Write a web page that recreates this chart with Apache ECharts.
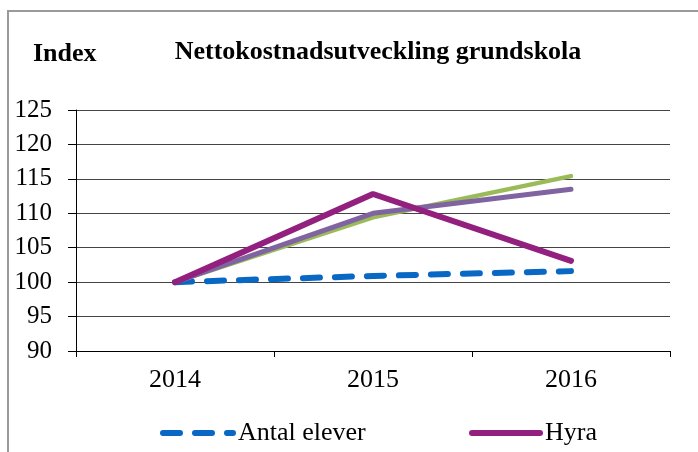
<!DOCTYPE html>
<html>
<head>
<meta charset="utf-8">
<script src="https://cdn.jsdelivr.net/npm/echarts@6/dist/echarts.min.js"></script>
<style>
html,body{margin:0;padding:0;background:#fff;}
#frame{position:absolute;left:7px;top:10px;width:700px;height:460px;border:2px solid #9a9a9a;box-sizing:border-box;}
#c{position:absolute;left:0;top:0;width:698px;height:452px;}
</style>
</head>
<body>
<div id="frame"></div>
<div id="c"></div>
<script>
var categories = ['2014', '2015', '2016'];
var antalElever = [100, 100.9, 101.6];
var hyra = [100, 112.8, 103.1];
var seriesGreen = [100, 109.4, 115.4];
var seriesLavender = [100, 110.0, 113.5];
var yTicks = [90, 95, 100, 105, 110, 115, 120, 125];

var serif = '"Liberation Serif", "Times New Roman", serif';
var legendText = {fontFamily: serif, fontSize: 26, color: '#000'};
var chart = echarts.init(document.getElementById('c'), null, {renderer: 'canvas'});
chart.setOption({
  animation: false,
  backgroundColor: 'transparent',
  textStyle: {fontFamily: serif, color: '#000'},
  title: [
    {text: 'Nettokostnadsutveckling grundskola', left: 378, top: 39, textAlign: 'center', padding: 0,
     textStyle: {fontFamily: serif, fontWeight: 'bold', fontSize: 26, color: '#000'}},
    {text: 'Index', left: 33, top: 41, padding: 0,
     textStyle: {fontFamily: serif, fontWeight: 'bold', fontSize: 26, color: '#000'}}
  ],
  legend: [
    {data: ['Antal elever'], left: 160, top: 420, padding: 0, itemWidth: 70, itemHeight: 14, itemGap: 5,
     textStyle: legendText, itemStyle: {opacity: 0},
     lineStyle: {width: 6, cap: 'round'}},
    {data: ['Hyra'], left: 469, top: 420, padding: 0, itemWidth: 68, itemHeight: 14,
     textStyle: legendText, itemStyle: {opacity: 0},
     lineStyle: {width: 6, cap: 'round'}}
  ],
  grid: {left: 76, right: 28, top: 110, bottom: 101, containLabel: false},
  xAxis: {
    type: 'category', data: categories, boundaryGap: true,
    axisLine: {lineStyle: {color: '#000', width: 1}},
    axisTick: {show: true, length: 6, lineStyle: {color: '#000'}},
    axisLabel: {fontFamily: serif, fontSize: 26, color: '#000', margin: 16},
    splitLine: {show: false}
  },
  yAxis: {
    type: 'value', min: yTicks[0], max: yTicks[yTicks.length - 1], interval: 5,
    axisLine: {show: true, lineStyle: {color: '#000', width: 1}},
    axisTick: {show: true, length: 8, lineStyle: {color: '#000'}},
    axisLabel: {fontFamily: serif, fontSize: 25, color: '#000', margin: 24},
    splitLine: {show: true, lineStyle: {color: '#444', width: 1}}
  },
  series: [
    {name: 'Antal elever', type: 'line', data: antalElever, symbol: 'none', z: 2,
     lineStyle: {color: '#0868C4', width: 6, type: [17, 15], cap: 'round'},
     itemStyle: {color: '#0868C4'}},
    {name: 'Serie3', type: 'line', data: seriesGreen, symbol: 'none', z: 3,
     lineStyle: {color: '#9BBB59', width: 4.5, cap: 'round'}, itemStyle: {color: '#9BBB59'}},
    {name: 'Serie4', type: 'line', data: seriesLavender, symbol: 'none', z: 4,
     lineStyle: {color: '#8064A2', width: 5, cap: 'round'}, itemStyle: {color: '#8064A2'}},
    {name: 'Hyra', type: 'line', data: hyra, symbol: 'none', z: 5,
     lineStyle: {color: '#93207F', width: 6, cap: 'round'}, itemStyle: {color: '#93207F'}}
  ]
});
</script>
</body>
</html>
